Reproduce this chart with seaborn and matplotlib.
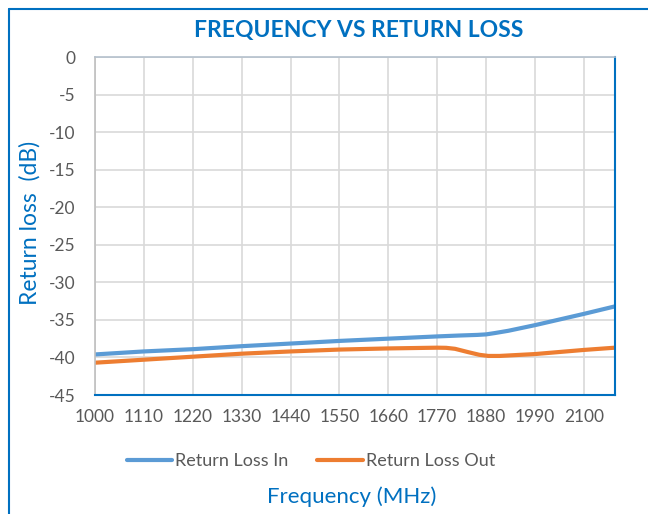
import matplotlib
matplotlib.use("Agg")
import matplotlib.pyplot as plt
import seaborn as sns
import pandas as pd
from matplotlib.lines import Line2D

freq_in = [1000, 1110, 1220, 1330, 1440, 1550, 1660, 1770, 1820, 1860, 1880, 1900, 1930, 1990, 2100, 2170]
loss_in = [-39.6, -39.2, -38.9, -38.5, -38.15, -37.8, -37.5, -37.2, -37.08, -37.0, -36.93, -36.75, -36.45, -35.7, -34.2, -33.2]
freq_out = [1000, 1110, 1220, 1330, 1440, 1550, 1660, 1770, 1790, 1810, 1840, 1865, 1885, 1910, 1990, 2100, 2170]
loss_out = [-40.7, -40.3, -39.9, -39.5, -39.2, -38.95, -38.8, -38.7, -38.72, -38.85, -39.3, -39.65, -39.8, -39.8, -39.55, -39.0, -38.7]
series_names = ["Return Loss In", "Return Loss Out"]
xticks = [1000, 1110, 1220, 1330, 1440, 1550, 1660, 1770, 1880, 1990, 2100]
yticks = [0, -5, -10, -15, -20, -25, -30, -35, -40, -45]

df = pd.concat([
    pd.DataFrame({"Frequency": freq_in, "Loss": loss_in, "Series": series_names[0]}),
    pd.DataFrame({"Frequency": freq_out, "Loss": loss_out, "Series": series_names[1]}),
])

sns.set_style("white")
plt.rcParams['font.family'] = ['Lato', 'DejaVu Sans']

fig = plt.figure(figsize=(6.48, 5.14), dpi=100)
ax = fig.add_axes([95/648, 1-395/514, (615-95)/648, (395-57)/514])

sns.lineplot(data=df, x="Frequency", y="Loss", hue="Series", ax=ax,
             palette=["#5B9BD5", "#ED7D31"], linewidth=3, legend=False, sort=False)

ax.set_xlim(1000, 2170)
ax.set_ylim(-45, 0)
ax.set_xticks(xticks)
ax.set_xticklabels([str(t) for t in xticks])
ax.set_yticks(yticks)
ax.set_yticklabels([str(t) for t in yticks])
ax.tick_params(axis='x', length=0, labelsize=12.5, colors="#595959", pad=10)
ax.tick_params(axis='y', length=0, labelsize=12.5, colors="#595959", pad=14)
ax.grid(True, color="#D9D9D9", linewidth=1.2)
ax.set_axisbelow(True)

for side in ["bottom", "right"]:
    ax.spines[side].set_color("#0070C0")
    ax.spines[side].set_linewidth(1.5)
ax.spines["left"].set_color("#BFBFBF")
ax.spines["left"].set_linewidth(1.2)
ax.spines["top"].set_color("#B4C0CC")
ax.spines["top"].set_linewidth(1.2)

ax.set_xlabel("")
ax.set_ylabel("")
fig.text(352/648, 1-497/514, "Frequency (MHz)", ha="center", va="center",
         color="#0070C0", fontsize=16)
fig.text(30/648, 1-223/514, "Return loss  (dB)", ha="center", va="center",
         rotation=90, color="#0070C0", fontsize=16.5)
fig.text(359/648, 1-30/514, "FREQUENCY VS RETURN LOSS", ha="center", va="center",
         color="#0070C0", fontsize=16.5, fontweight="bold")

handles = [Line2D([0], [0], color="#5B9BD5", lw=3),
           Line2D([0], [0], color="#ED7D31", lw=3)]
leg = fig.legend(handles, series_names, loc="center", bbox_to_anchor=(311/648, 1-461/514),
                 ncol=2, frameon=False, fontsize=13, handlelength=2.5, handletextpad=0.2,
                 columnspacing=1.6)
for t in leg.get_texts():
    t.set_color("#595959")

# outer chart border (left and top only visible)
fig.add_artist(Line2D([9/648, 9/648], [0, 1-9/514], transform=fig.transFigure,
                      color="#0070C0", lw=1.5))
fig.add_artist(Line2D([9/648, 1], [1-9/514, 1-9/514], transform=fig.transFigure,
                      color="#0070C0", lw=1.5))

fig.savefig("out.png", dpi=100)
